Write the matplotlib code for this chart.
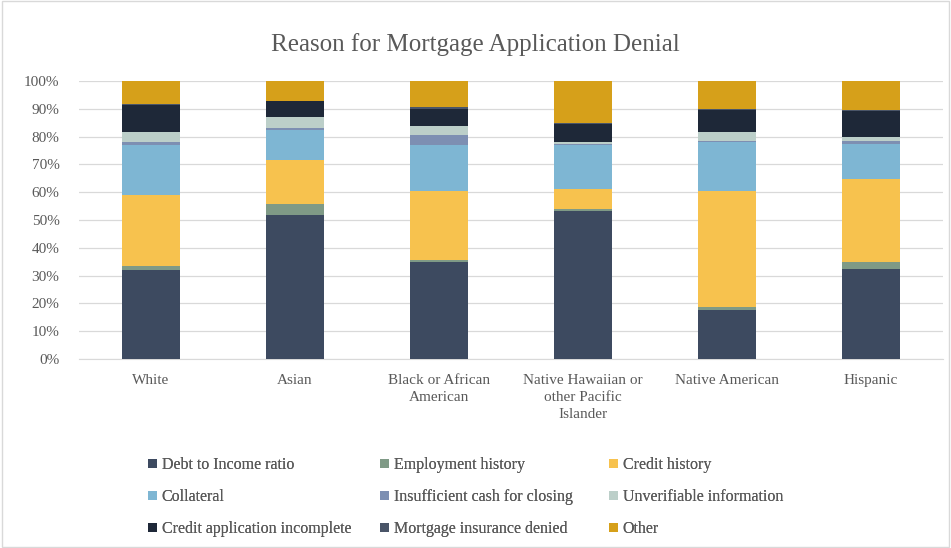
import numpy as np
import matplotlib.pyplot as plt
from matplotlib.patches import Rectangle

plt.rcParams['font.family'] = ['Liberation Serif', 'DejaVu Serif']

# data (percent of denials)
groups = ['White', 'Asian', 'Black or African\nAmerican', 'Native Hawaiian or\nother Pacific\nIslander',
          'Native American', 'Hispanic']
reasons = ['Debt to Income ratio', 'Employment history', 'Credit history', 'Collateral',
           'Insufficient cash for closing', 'Unverifiable information',
           'Credit application incomplete', 'Mortgage insurance denied', 'Other']
debt = [32.0, 51.7, 35.0, 53.3, 17.6, 32.2]
employment = [1.5, 4.0, 0.5, 0.5, 1.2, 2.8]
credit = [25.5, 15.8, 24.9, 7.2, 41.6, 29.9]
collateral = [18.0, 10.8, 16.6, 16.0, 17.6, 12.6]
cash = [1.0, 1.0, 3.5, 0.5, 0.5, 1.0]
unverifiable = [3.7, 3.7, 3.5, 0.5, 3.2, 1.4]
incomplete = [9.8, 5.8, 6.0, 6.5, 8.0, 9.3]
insurance = [0.3, 0.2, 0.5, 0.3, 0.3, 0.3]
other = [8.2, 7.0, 9.5, 15.2, 10.0, 10.5]
values = [debt, employment, credit, collateral, cash, unverifiable, incomplete, insurance, other]

colors = ['#3d4a60', '#7f9a86', '#f7c24e', '#7eb6d3', '#7d8fb2', '#bccfc9', '#1e2838', '#4a5568', '#d6a01a']

fig = plt.figure(figsize=(9.51, 5.48), dpi=100)
ax = fig.add_axes([0.083, 0.345, 0.9086, 0.507])

x = np.arange(len(groups))
bottom = np.zeros(len(groups))
bars = []
for vals, c, lab in zip(values, colors, reasons):
    b = ax.bar(x, vals, 0.4, bottom=bottom, color=c, label=lab, zorder=3)
    bars.append(b)
    bottom += np.array(vals)

ax.set_xlim(-0.5, len(groups) - 0.5)
ax.set_ylim(0, 100)
ax.set_yticks(np.arange(0, 101, 10))
ax.set_yticklabels([f'{v}%' for v in range(0, 101, 10)])
ax.yaxis.grid(True, color='#d9d9d9', linewidth=0.9, zorder=0)
ax.set_xticks(x)
ax.set_xticklabels(groups, linespacing=1.4)
ax.tick_params(axis='both', length=0, colors='#595959', labelsize=11)
ax.tick_params(axis='x', pad=11)
ax.tick_params(axis='y', pad=14)
for s in ['top', 'right', 'left']:
    ax.spines[s].set_visible(False)
ax.spines['bottom'].set_color('#d9d9d9')

fig.text(0.5, 0.918, 'Reason for Mortgage Application Denial', ha='center', va='center',
         fontsize=18, color='#595959')

# legend: three columns placed separately, row-major order as in the picture
col_x = [148 / 951, 380 / 951, 609 / 951]
for k in range(3):
    idx = [k, k + 3, k + 6]
    leg = fig.legend([bars[i] for i in idx], [reasons[i] for i in idx], loc='upper left',
                     bbox_to_anchor=(col_x[k], 0.166), frameon=False, fontsize=11.5,
                     labelcolor='#595959', handlelength=0.55, handleheight=0.55,
                     handletextpad=0.3, labelspacing=1.0, borderaxespad=0, borderpad=0)
    fig.add_artist(leg)

fig.add_artist(Rectangle((0.002, 0.002), 0.996, 0.996, transform=fig.transFigure,
                         fill=False, edgecolor='#d9d9d9', linewidth=1))

fig.savefig('out.png', dpi=100)
